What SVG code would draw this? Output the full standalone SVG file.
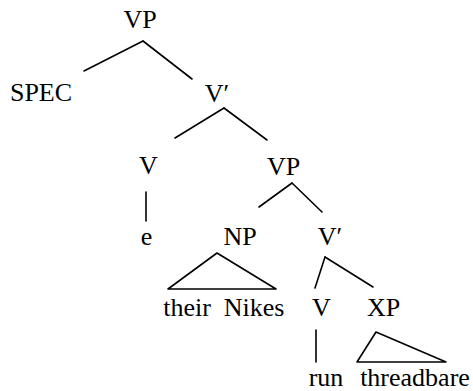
<svg xmlns="http://www.w3.org/2000/svg" width="473" height="391" viewBox="0 0 473 391">
<style>
text { font-size: 26px; fill: #000; text-anchor: middle; }
.e { stroke: #000; stroke-width: 1.6; fill: none; stroke-linecap: round; stroke-linejoin: round; }
</style>
<rect width="473" height="391" fill="#fff"/>
<g id="connectors">
  <line class="e" x1="143" y1="41" x2="84" y2="71"/>
  <line class="e" x1="143" y1="41" x2="192" y2="79"/>
  <line class="e" x1="224" y1="108" x2="175" y2="138"/>
  <line class="e" x1="224" y1="108" x2="267" y2="140"/>
  <line class="e" x1="146" y1="192" x2="146" y2="221"/>
  <line class="e" x1="292" y1="183" x2="259" y2="207"/>
  <line class="e" x1="292" y1="183" x2="322" y2="212"/>
  <polygon class="e" points="168,289 217,253 276,289"/>
  <line class="e" x1="325" y1="257" x2="315" y2="288"/>
  <line class="e" x1="325" y1="257" x2="373" y2="287"/>
  <line class="e" x1="316" y1="330" x2="316" y2="362"/>
  <polygon class="e" points="357,362 376,332 446,362"/>
</g>
<g font-family="Liberation Serif, Times New Roman, serif">
<g id="n-vp-top"><text x="140" y="28" font-family="Liberation Serif">VP</text></g>
<g id="n-spec"><text x="41" y="101" font-family="Liberation Serif">SPEC</text></g>
<g id="n-vbar-top"><text x="217" y="102" font-family="Liberation Serif">V′</text></g>
<g id="n-v-mid"><text x="148.5" y="174" font-family="Liberation Serif">V</text></g>
<g id="n-vp-mid"><text x="283.5" y="175" font-family="Liberation Serif">VP</text></g>
<g id="n-e"><text x="146.5" y="245" font-family="Liberation Serif">e</text></g>
<g id="n-np"><text x="240" y="245" font-family="Liberation Serif">NP</text></g>
<g id="n-vbar-low"><text x="330" y="245" font-family="Liberation Serif">V′</text></g>
<g id="n-their-nikes"><text x="187" y="316" font-family="Liberation Serif">their</text><text x="254" y="316" font-family="Liberation Serif">Nikes</text></g>
<g id="n-v-low"><text x="321.5" y="316" font-family="Liberation Serif">V</text></g>
<g id="n-xp"><text x="383.5" y="316" font-family="Liberation Serif">XP</text></g>
<g id="n-run"><text x="326" y="386" font-family="Liberation Serif">run</text></g>
<g id="n-threadbare"><text x="415" y="386" font-family="Liberation Serif">threadbare</text></g>
</g>
</svg>
